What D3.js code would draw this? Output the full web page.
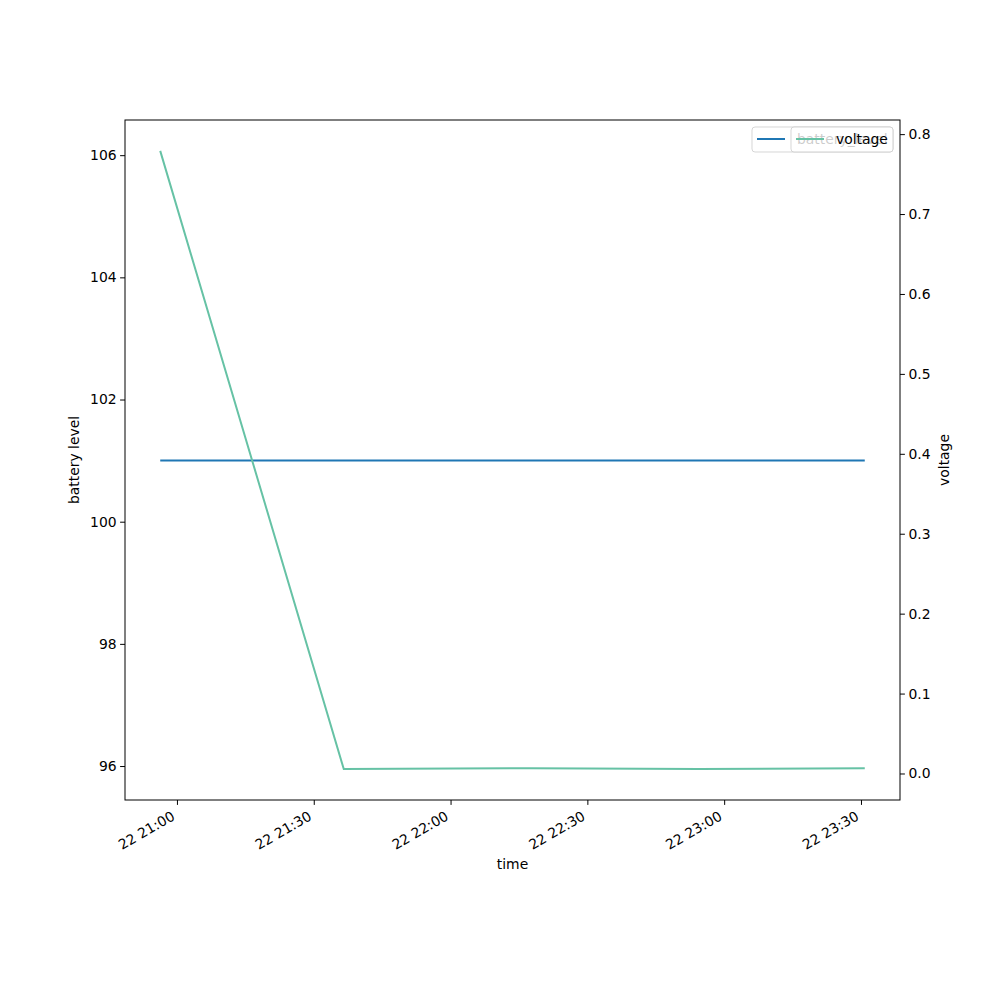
<!DOCTYPE html>
<html><head><meta charset="utf-8">
<script src="https://cdn.jsdelivr.net/npm/d3@7"></script>
<style>body{margin:0;background:#fff}svg{display:block}text{font-family:"DejaVu Sans",sans-serif}</style>
</head><body>
<svg id="c" width="1000" height="1000"></svg>
<script>
const times = ["2023-01-22T20:56:20","2023-01-22T21:36:35","2023-01-22T22:17:20","2023-01-22T22:54:30","2023-01-22T23:30:50"];
const batteryLevel = [101,101,101,101,101];
const voltage = [0.779,0.0055,0.0066,0.0055,0.0066];
const xTickLabels = ["22 21:00","22 21:30","22 22:00","22 22:30","22 23:00","22 23:30"];
const xTickTimes = ["2023-01-22T21:00:00","2023-01-22T21:30:00","2023-01-22T22:00:00","2023-01-22T22:30:00","2023-01-22T23:00:00","2023-01-22T23:30:00"];
const leftTicks = [96,98,100,102,104,106];
const rightTicks = [0.0,0.1,0.2,0.3,0.4,0.5,0.6,0.7,0.8];

const parse = d3.isoParse;
const T = times.map(parse);
const L=125,R=900,Tp=120,B=800;
const svg = d3.select("#c");
const t0=T[0], t1=T[T.length-1], span=t1-t0;
const x = d3.scaleTime().domain([new Date(+t0-span*0.05), new Date(+t1+span*0.05)]).range([L,R]);
const bmin=95.95,bmax=106.07, bd=bmax-bmin;
const yL = d3.scaleLinear().domain([bmin-bd*0.05,bmax+bd*0.05]).range([B,Tp]);
const vmin=d3.min(voltage), vmax=d3.max(voltage), vd=vmax-vmin;
const yR = d3.scaleLinear().domain([vmin-vd*0.05,vmax+vd*0.05]).range([B,Tp]);

const fs=13.9;
// lines
svg.append("path").datum(batteryLevel).attr("fill","none").attr("stroke","#1f77b4").attr("stroke-width",2)
  .attr("d", d3.line().x((d,i)=>x(T[i])).y(d=>yL(d)));
svg.append("path").datum(voltage).attr("fill","none").attr("stroke","#66c2a5").attr("stroke-width",2)
  .attr("d", d3.line().x((d,i)=>x(T[i])).y(d=>yR(d)));

// frame
svg.append("rect").attr("x",L).attr("y",Tp).attr("width",R-L).attr("height",B-Tp).attr("fill","none").attr("stroke","#000").attr("stroke-width",1);

// x axis
const xa = svg.append("g").attr("transform",`translate(0,${B})`)
  .call(d3.axisBottom(x).tickValues(xTickTimes.map(parse)).tickFormat((d,i)=>xTickLabels[i]).tickSize(4.9).tickPadding(3.5));
xa.select(".domain").remove();
xa.selectAll("text").attr("font-size",fs).attr("fill","#000").attr("text-anchor","end")
  .attr("x",0).attr("y",0).attr("dy",null).attr("dx",null)
  .attr("transform","translate(-1.6,19) rotate(-30)");

// left axis
const la = svg.append("g").attr("transform",`translate(${L},0)`)
  .call(d3.axisLeft(yL).tickValues(leftTicks).tickFormat(d3.format("d")).tickSize(4.9).tickPadding(3.5));
la.select(".domain").remove();
la.selectAll("text").attr("font-size",fs).attr("fill","#000");
// right axis
const ra = svg.append("g").attr("transform",`translate(${R},0)`)
  .call(d3.axisRight(yR).tickValues(rightTicks).tickFormat(d3.format(".1f")).tickSize(4.9).tickPadding(3.5));
ra.select(".domain").remove();
ra.selectAll("text").attr("font-size",fs).attr("fill","#000");
svg.selectAll(".tick line").attr("stroke","#000").attr("stroke-width",1);

// axis labels
svg.append("text").attr("x",(L+R)/2).attr("y",869).attr("text-anchor","middle").attr("font-size",fs).text("time");
svg.append("text").attr("transform",`translate(79,${(Tp+B)/2}) rotate(-90)`).attr("text-anchor","middle").attr("font-size",fs).text("battery level");
svg.append("text").attr("transform",`translate(949,${(Tp+B)/2}) rotate(-90)`).attr("text-anchor","middle").attr("font-size",fs).text("voltage");

// legends
function legend(x0,w,label,color){
  const g=svg.append("g");
  g.append("rect").attr("x",x0).attr("y",127).attr("width",w).attr("height",25).attr("rx",3)
    .attr("fill","#fff").attr("fill-opacity",0.8).attr("stroke","#cccccc").attr("stroke-opacity",0.8);
  g.append("line").attr("x1",x0+5).attr("x2",x0+33).attr("y1",139).attr("y2",139).attr("stroke",color).attr("stroke-width",2);
  g.append("text").attr("x",x0+45).attr("y",144).attr("font-size",fs).attr("fill","#000").text(label);
}
legend(752,141,"battery_level","#1f77b4");
legend(791,102,"voltage","#66c2a5");
</script>
</body></html>
